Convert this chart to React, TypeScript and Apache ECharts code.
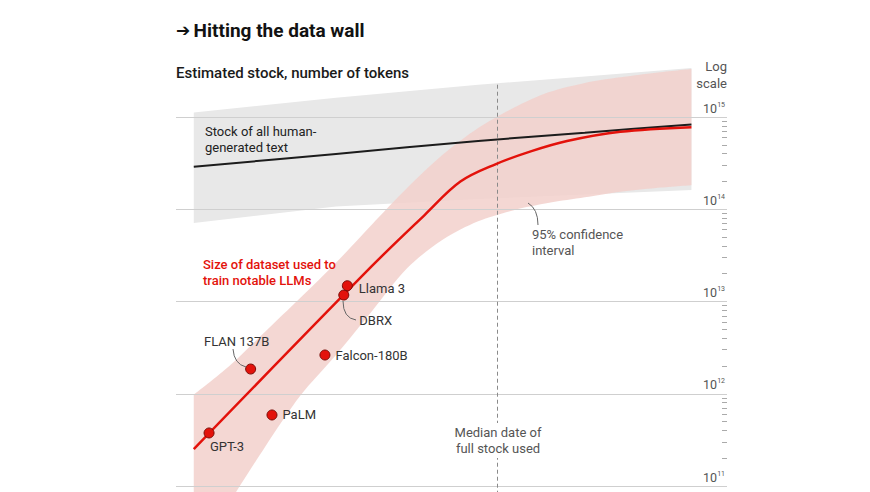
import React, { useEffect, useRef } from "react";
import * as echarts from "echarts";

// x = year, y = log10(number of tokens)
const years = [2020, 2021, 2022, 2023, 2024, 2025, 2026, 2027, 2028, 2029, 2030, 2031, 2032, 2033, 2034];
const ciUpper = [11.99, 12.3, 12.67, 13.04, 13.42, 13.83, 14.23, 14.59, 14.88, 15.1, 15.27, 15.37, 15.43, 15.48, 15.52];
const ciLower = [10.2, 10.82, 11.42, 11.98, 12.42, 12.89, 13.36, 13.67, 13.87, 13.99, 14.07, 14.13, 14.19, 14.23, 14.26];

const trendYears = [2020, 2025, 2026.5, 2027.5, 2028.5, 2029.5, 2030.5, 2032, 2034];
const datasetTrend = [11.4, 13.38, 13.94, 14.3, 14.49, 14.63, 14.74, 14.84, 14.89];

const stockYears = [2020, 2024, 2028, 2031, 2034];
const stockMedian = [14.46, 14.6, 14.74, 14.83, 14.92];
const stockUpper = [15.05, 15.21, 15.35, 15.44, 15.53];
const stockLower = [13.85, 14.03, 14.11, 14.16, 14.21];

const modelNames = ["GPT-3", "FLAN 137B", "PaLM", "Falcon-180B", "DBRX", "Llama 3"];
const modelDates = [2020.43, 2021.6, 2022.2, 2023.69, 2024.22, 2024.32];
const modelTokens = [11.575, 12.268, 11.77, 12.42, 13.07, 13.171];

const majorTicks = [11, 12, 13, 14, 15];
const medianFullStockDate = 2028.55;

const FONT = "Roboto, 'Noto Sans', sans-serif";

export default function App() {
  const ref = useRef<HTMLDivElement>(null);
  useEffect(() => {
    if (!ref.current) return;
    const chart = echarts.init(ref.current, undefined, { renderer: "svg" });

    const minorTicks: number[] = [];
    for (let n = 11; n < 15; n++) {
      for (let k = 2; k <= 9; k++) minorTicks.push(n + Math.log10(k));
    }

    // value first, year second (encode swaps them) so that stacking applies to the y values
    const vy = (xs: number[], ys: number[]) => xs.map((x, i) => [ys[i], x]);
    const swapEncode = { x: 1, y: 0 };

    const labelCfg: Record<string, any> = {
      "GPT-3": { position: "bottom", distance: 2, offset: [18, 0] },
      "FLAN 137B": { position: "top", distance: 16, offset: [-14, 0] },
      PaLM: { position: "right", distance: 5 },
      "Falcon-180B": { position: "right", distance: 5 },
      DBRX: { position: "right", distance: 10, offset: [0, 25] },
      "Llama 3": { position: "right", distance: 6, offset: [0, 3] },
    };

    const option: any = {
      animation: false,
      grid: { left: 176, right: 143, top: 60, bottom: 0 },
      xAxis: { type: "value", min: 2019.5, max: 2035, show: false },
      yAxis: {
        type: "value",
        min: 10.935,
        max: 15.618,
        position: "right",
        axisLine: { show: false },
        splitLine: { show: false },
        axisTick: {
          show: true,
          inside: true,
          length: 5,
          customValues: minorTicks,
          lineStyle: { color: "#aaaaaa", width: 1 },
        },
        axisLabel: {
          inside: true,
          customValues: majorTicks,
          margin: 2,
          verticalAlign: "bottom",
          padding: [0, 0, 2, 0],
          formatter: (v: number) => `{b|10}{s|${Math.round(v)}}`,
          rich: {
            b: { fontSize: 12.5, color: "#555", fontFamily: FONT },
            s: { fontSize: 7, color: "#555", fontFamily: FONT, padding: [0, 0, 7, 0] },
          },
        },
      },
      series: [
        {
          type: "line",
          data: vy(stockYears, stockLower),
          encode: swapEncode,
          stack: "stock",
          symbol: "none",
          lineStyle: { opacity: 0 },
          silent: true,
          z: 1,
        },
        {
          type: "line",
          data: vy(stockYears, stockUpper.map((u, i) => u - stockLower[i])),
          encode: swapEncode,
          stack: "stock",
          symbol: "none",
          lineStyle: { opacity: 0 },
          areaStyle: { color: "#e8e8e8", opacity: 1 },
          silent: true,
          z: 1,
        },
        {
          type: "line",
          data: vy(years, ciLower),
          encode: swapEncode,
          stack: "ci",
          smooth: 0.3,
          symbol: "none",
          lineStyle: { opacity: 0 },
          silent: true,
          z: 2,
        },
        {
          type: "line",
          data: vy(years, ciUpper.map((u, i) => u - ciLower[i])),
          encode: swapEncode,
          stack: "ci",
          smooth: 0.3,
          symbol: "none",
          lineStyle: { opacity: 0 },
          areaStyle: { color: "#f2d0cb", opacity: 0.85 },
          silent: true,
          z: 2,
        },
        {
          type: "line",
          data: [[2019.5, 11]],
          symbol: "none",
          lineStyle: { opacity: 0 },
          silent: true,
          z: 3,
          markLine: {
            silent: true,
            symbol: "none",
            label: { show: false },
            lineStyle: { color: "#cfcfcf", type: "solid", width: 1 },
            data: [
              ...majorTicks.map((t) => ({ yAxis: t })),
              [
                { coord: [medianFullStockDate, 15.35], lineStyle: { color: "#8a8a8a", type: [4, 3], width: 1 } },
                { coord: [medianFullStockDate, 10.935] },
              ],
            ],
          },
        },
        {
          type: "line",
          data: vy(stockYears, stockMedian),
          encode: swapEncode,
          smooth: 0.3,
          symbol: "none",
          lineStyle: { color: "#1c1c1c", width: 2 },
          silent: true,
          z: 4,
        },
        {
          type: "line",
          data: vy(trendYears, datasetTrend),
          encode: swapEncode,
          smooth: 0.35,
          symbol: "none",
          lineStyle: { color: "#e3120b", width: 2.5 },
          silent: true,
          z: 5,
        },
        {
          type: "scatter",
          symbolSize: 10,
          z: 6,
          itemStyle: { color: "#e3120b", borderColor: "#7a0a05", borderWidth: 1, opacity: 1 },
          data: modelNames.map((name, i) => ({
            name,
            value: [modelDates[i], modelTokens[i]],
            label: {
              show: true,
              formatter: name,
              color: "#333",
              fontSize: 13,
              fontFamily: FONT,
              ...labelCfg[name],
            },
          })),
        },
      ],
      graphic: [
        {
          type: "text",
          x: 176,
          y: 30,
          z: 100,
          style: {
            text: "{a|➔} {t|Hitting the data wall}",
            verticalAlign: "middle",
            rich: {
              a: { font: `bold 17px 'DejaVu Sans', sans-serif`, fill: "#121212" },
              t: { font: `bold 19px ${FONT}`, fill: "#121212" },
            },
          },
        },
        {
          type: "text",
          x: 176,
          y: 73,
          z: 100,
          style: { text: "Estimated stock, number of tokens", font: `500 15px ${FONT}`, fill: "#1a1a1a", verticalAlign: "middle" },
        },
        {
          type: "text",
          x: 727,
          y: 58,
          z: 100,
          style: { text: "Log\nscale", font: `13px ${FONT}`, lineHeight: 17, fill: "#555", align: "right", verticalAlign: "top" },
        },
        {
          type: "text",
          x: 205,
          y: 123,
          z: 100,
          style: { text: "Stock of all human-\ngenerated text", font: `13px ${FONT}`, lineHeight: 16, fill: "#222", verticalAlign: "top" },
        },
        {
          type: "text",
          x: 203,
          y: 256,
          z: 100,
          style: { text: "Size of dataset used to\ntrain notable LLMs", font: `500 13px ${FONT}`, lineHeight: 16, fill: "#e3120b", verticalAlign: "top" },
        },
        {
          type: "text",
          x: 532,
          y: 226,
          z: 100,
          style: { text: "95% confidence\ninterval", font: `13px ${FONT}`, lineHeight: 16, fill: "#555", verticalAlign: "top" },
        },
        {
          type: "text",
          x: 498,
          y: 423,
          z: 100,
          style: {
            text: "Median date of\nfull stock used",
            font: `13px ${FONT}`,
            lineHeight: 16,
            fill: "#555",
            align: "center",
            verticalAlign: "top",
            backgroundColor: "#ffffff",
            padding: [1, 2, 2, 2],
          },
        },
        {
          type: "bezierCurve",
          z: 100,
          shape: { x1: 233, y1: 349, cpx1: 234, cpy1: 364, x2: 246, y2: 367 },
          style: { stroke: "#666", lineWidth: 1, fill: null },
        },
        {
          type: "bezierCurve",
          z: 100,
          shape: { x1: 343, y1: 301, cpx1: 343, cpy1: 318, x2: 356, y2: 320 },
          style: { stroke: "#666", lineWidth: 1, fill: null },
        },
        {
          type: "bezierCurve",
          z: 100,
          shape: { x1: 528, y1: 203, cpx1: 538, cpy1: 209, x2: 538, y2: 225 },
          style: { stroke: "#666", lineWidth: 1, fill: null },
        },
      ],
    };

    chart.setOption(option);
    return () => chart.dispose();
  }, []);

  return (
    <div
      ref={ref}
      style={{ position: "fixed", left: 0, top: 0, width: 870, height: 492, background: "#ffffff" }}
    />
  );
}
